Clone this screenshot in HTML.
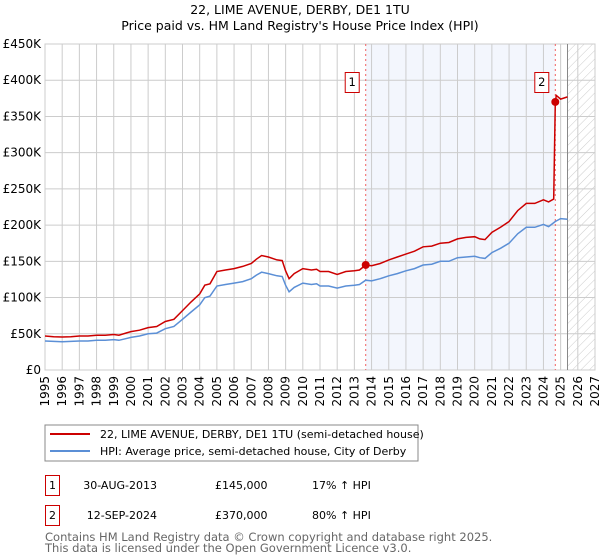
<!DOCTYPE html>
<html><head><meta charset="utf-8"><style>
body{margin:0;background:#fff;width:600px;height:560px;overflow:hidden;font-family:"DejaVu Sans","Liberation Sans",sans-serif}
svg{display:block}
</style></head><body>
<svg id="chart" width="600" height="560" xmlns="http://www.w3.org/2000/svg">
<defs><pattern id="hatch" width="6" height="6" patternUnits="userSpaceOnUse" patternTransform="rotate(45)"><line x1="0" y1="0" x2="0" y2="6" stroke="#ccc" stroke-width="1"/></pattern></defs>
<text x="300" y="14" text-anchor="middle" font-size="12.5" fill="#000">22, LIME AVENUE, DERBY, DE1 1TU</text>
<text x="300" y="30" text-anchor="middle" font-size="12.5" fill="#000">Price paid vs. HM Land Registry's House Price Index (HPI)</text>
<g id="plot"></g>
<rect x="45" y="425" width="373" height="36" fill="#fff" stroke="#888"/>
<line x1="50" y1="434" x2="90" y2="434" stroke="#cc0000" stroke-width="2"/>
<text x="100" y="438" font-size="11">22, LIME AVENUE, DERBY, DE1 1TU (semi-detached house)</text>
<line x1="50" y1="451" x2="90" y2="451" stroke="#5b8fd6" stroke-width="2"/>
<text x="100" y="455" font-size="11">HPI: Average price, semi-detached house, City of Derby</text>
<g font-size="11">
<rect x="45.5" y="475.5" width="14" height="20" fill="#fff" stroke="#cc0000"/>
<text x="52.5" y="489" text-anchor="middle">1</text>
<text x="157" y="489" text-anchor="end">30-AUG-2013</text>
<text x="215" y="489">£145,000</text>
<text x="312" y="489">17% ↑ HPI</text>
<rect x="45.5" y="505.5" width="14" height="20" fill="#fff" stroke="#cc0000"/>
<text x="52.5" y="519" text-anchor="middle">2</text>
<text x="157" y="519" text-anchor="end">12-SEP-2024</text>
<text x="215" y="519">£370,000</text>
<text x="312" y="519">80% ↑ HPI</text>
</g>
<text x="45" y="541" font-size="11.5" fill="#666">Contains HM Land Registry data © Crown copyright and database right 2025.</text>
<text x="45" y="552" font-size="11.5" fill="#666">This data is licensed under the Open Government Licence v3.0.</text>
</svg>
<script>
const hpiDates=[1995,1995.5,1996,1996.5,1997,1997.5,1998,1998.5,1999,1999.3,2000,2000.5,2001,2001.5,2002,2002.5,2003,2003.5,2004,2004.3,2004.6,2005,2005.5,2006,2006.5,2007,2007.3,2007.6,2008,2008.5,2008.8,2009,2009.2,2009.5,2010,2010.5,2010.8,2011,2011.5,2012,2012.5,2013,2013.3,2013.66,2014,2014.5,2015,2015.5,2016,2016.5,2017,2017.5,2018,2018.5,2019,2019.5,2020,2020.3,2020.6,2021,2021.5,2022,2022.5,2023,2023.5,2024,2024.3,2024.69,2025,2025.4];
const hpiValues=[40,39.5,39,39.5,40,40,41,41,42,41,45,47,50,51,57,60,70,80,90,100,102,116,118,120,122,126,131,135,133,130,129,117,108,114,120,118,119,116,116,113,116,117,118,124,123,126,130,133,137,140,145,146,150,150,155,156,157,155,154,162,168,175,188,197,197,201,198,205,209,208];
const redDates=[1995,1995.5,1996,1996.5,1997,1997.5,1998,1998.5,1999,1999.3,2000,2000.5,2001,2001.5,2002,2002.5,2003,2003.5,2004,2004.3,2004.6,2005,2005.5,2006,2006.5,2007,2007.3,2007.6,2008,2008.5,2008.8,2009,2009.2,2009.5,2010,2010.5,2010.8,2011,2011.5,2012,2012.5,2013,2013.3,2013.66,2014,2014.5,2015,2015.5,2016,2016.5,2017,2017.5,2018,2018.5,2019,2019.5,2020,2020.3,2020.6,2021,2021.5,2022,2022.5,2023,2023.5,2024,2024.3,2024.6,2024.69,2024.75,2025,2025.4];
const redValues=[47,46,45.5,46,47,47,48,48,49,48,53,55,58.5,60,67,70,82,94,105,117,119,136,138,140,143,147,153,158,156,152,151,137,126,133,140,138,139,136,136,132,136,137,138,145,144,147,152,156,160,164,170,171,175,176,181,183,184,181,180,190,197,205,220,230,230,235,232,236,370,379,374,377];
const saleDates=[2013.66,2024.69];
const saleValues=[145,370];
const saleLabels=["1","2"];
const yTicks=[0,50,100,150,200,250,300,350,400,450];
const yTickLabels=["£0","£50K","£100K","£150K","£200K","£250K","£300K","£350K","£400K","£450K"];
const xTicks=[1995,1996,1997,1998,1999,2000,2001,2002,2003,2004,2005,2006,2007,2008,2009,2010,2011,2012,2013,2014,2015,2016,2017,2018,2019,2020,2021,2022,2023,2024,2025,2026,2027];
const dataEnd=2025.4;

const L=45,R=595,T=44,B=370,X0=1995,X1=2027,YM=450;
const xs=d=>L+(d-X0)/(X1-X0)*(R-L);
const ys=v=>B-v/YM*(B-T);
const NS='http://www.w3.org/2000/svg';
const g=document.getElementById('plot');
function mk(tag,attrs){const e=document.createElementNS(NS,tag);for(const k in attrs)e.setAttribute(k,attrs[k]);g.appendChild(e);return e;}

let e=mk('rect',{x:xs(saleDates[0]),y:T,width:xs(saleDates[1])-xs(saleDates[0]),height:B-T,fill:'#eef2fc',opacity:0.7});


e=mk('rect',{x:xs(dataEnd),y:T,width:R-xs(dataEnd),height:B-T,fill:'url(#hatch)'});



yTicks.forEach((v,i)=>{
  let l=mk('line',{x1:L,x2:R,y1:ys(v),y2:ys(v),stroke:'#ccc','stroke-width':1});
  
  
  let t=mk('text',{x:L-4,y:ys(v)+4,'text-anchor':'end','font-size':12});
  t.textContent=yTickLabels[i];
  
  
});
xTicks.forEach(d=>{
  let l=mk('line',{x1:xs(d),x2:xs(d),y1:T,y2:B,stroke:'#ccc','stroke-width':1});
  
  
  let t=mk('text',{x:0,y:0,'text-anchor':'end','font-size':12,transform:`translate(${xs(d)+4},${B+6}) rotate(-90)`});
  t.textContent=d;
  
  
});
e=mk('rect',{x:L,y:T,width:R-L,height:B-T,fill:'none',stroke:'#ccc'});


e=mk('line',{x1:xs(dataEnd),x2:xs(dataEnd),y1:T,y2:B,stroke:'#888','stroke-width':1});



saleDates.forEach((d,i)=>{
  let l=mk('line',{x1:xs(d),x2:xs(d),y1:T,y2:B,stroke:'#f06060','stroke-width':1,'stroke-dasharray':'2,3'});
  
  
});

const pts=(ds,vs)=>ds.map((d,i)=>xs(d).toFixed(1)+','+ys(vs[i]).toFixed(1)).join(' ');
e=mk('polyline',{points:pts(hpiDates,hpiValues),fill:'none',stroke:'#5b8fd6','stroke-width':1.5});


e=mk('polyline',{points:pts(redDates,redValues),fill:'none',stroke:'#cc0000','stroke-width':1.5});



saleDates.forEach((d,i)=>{
  let c=mk('circle',{cx:xs(d),cy:ys(saleValues[i]),r:4,fill:'#cc0000'});
  
  
  let r=mk('rect',{x:xs(d)-20.5,y:72.5,width:14,height:20,fill:'#fff',stroke:'#cc0000'});
  
  
  let t=mk('text',{x:xs(d)-13.5,y:86,'text-anchor':'middle','font-size':11.5});
  t.textContent=saleLabels[i];
  
  
});
</script>
</body></html>
